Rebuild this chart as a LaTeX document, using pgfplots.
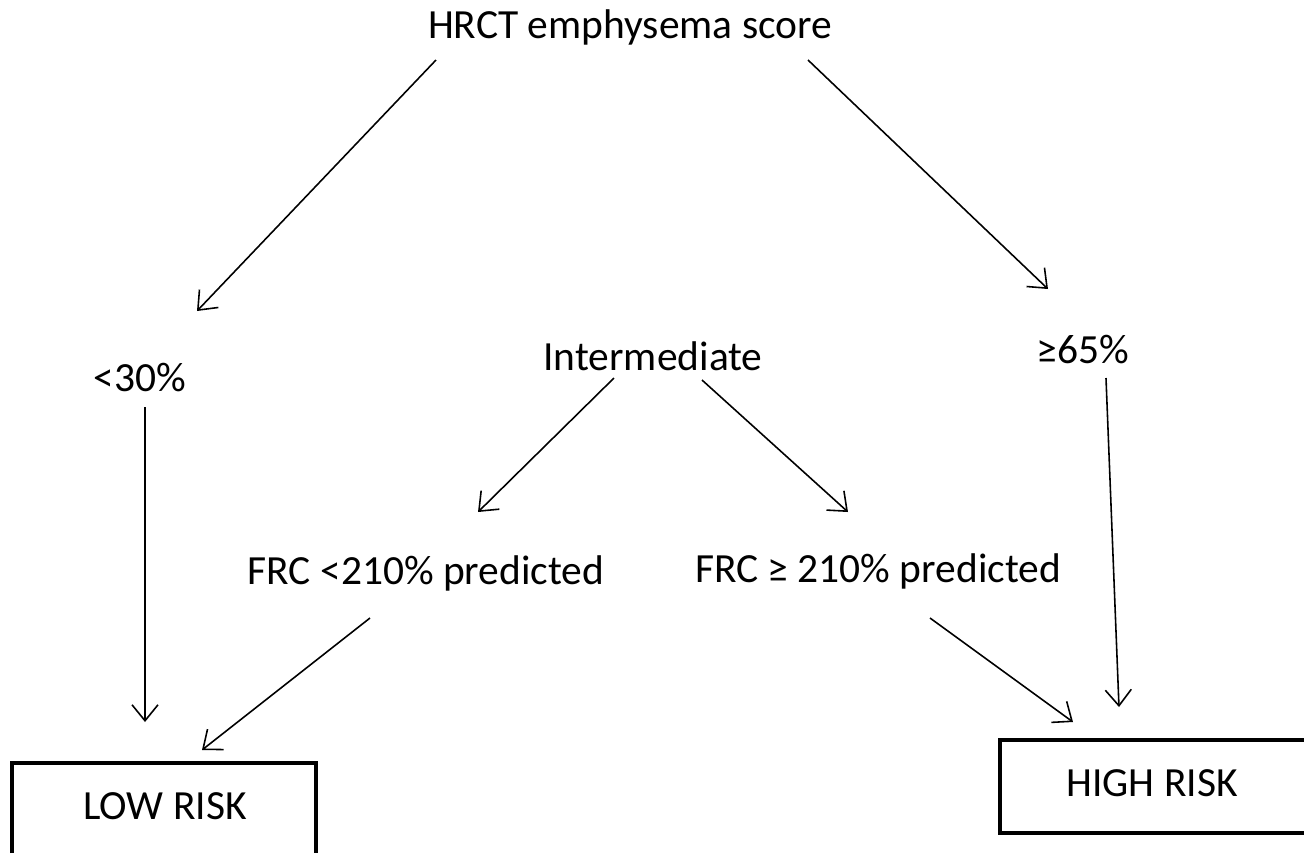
\documentclass[border=0pt]{standalone}
\usepackage{pgfplots}
\pgfplotsset{compat=1.18}
\usepackage{fontspec}
\setmainfont{Carlito}
\usetikzlibrary{arrows.meta}
\begin{document}
\begin{tikzpicture}
\begin{axis}[
  width=13.04cm, height=8.53cm, scale only axis,
  xmin=0, xmax=1304, ymin=0, ymax=853, y dir=reverse,
  axis lines=none, clip=true,
  every axis plot/.append style={black, line width=0.45pt, mark=none},
]
% arrows
\addplot[-{Straight Barb[length=1.6mm,width=2.6mm]}] coordinates {(436,60) (197,311)};
\addplot[-{Straight Barb[length=1.6mm,width=2.6mm]}] coordinates {(808,60) (1048,289)};
\addplot[-{Straight Barb[length=1.6mm,width=2.6mm]}] coordinates {(145,407) (145,722)};
\addplot[-{Straight Barb[length=1.6mm,width=2.6mm]}] coordinates {(1106,378) (1119,707)};
\addplot[-{Straight Barb[length=1.6mm,width=2.6mm]}] coordinates {(614,378) (478,512)};
\addplot[-{Straight Barb[length=1.6mm,width=2.6mm]}] coordinates {(702,380) (848,512)};
\addplot[-{Straight Barb[length=1.6mm,width=2.6mm]}] coordinates {(370,618) (202,750)};
\addplot[-{Straight Barb[length=1.6mm,width=2.6mm]}] coordinates {(930,618) (1073,722)};
% boxes
\addplot[line width=1.1pt] coordinates {(12,853) (12,763) (316,763) (316,853)};
\addplot[line width=1.1pt] coordinates {(1304,740) (1000,740) (1000,833) (1304,833)};
% labels
\node[font=\fontsize{11.8}{14}\selectfont] at (axis cs:630,27) {HRCT emphysema score};
\node[font=\fontsize{11.8}{14}\selectfont] at (axis cs:140,378) {<30\%};
\node[font=\fontsize{11.8}{14}\selectfont] at (axis cs:653,356) {Intermediate};
\node[font=\fontsize{11.8}{14}\selectfont] at (axis cs:1083,350) {≥65\%};
\node[font=\fontsize{11.8}{14}\selectfont] at (axis cs:426,573) {FRC <210\% predicted};
\node[font=\fontsize{11.8}{14}\selectfont] at (axis cs:878,571) {FRC ≥ 210\% predicted};
\node[font=\fontsize{11.8}{14}\selectfont] at (axis cs:165,806) {LOW RISK};
\node[font=\fontsize{11.8}{14}\selectfont] at (axis cs:1152,783) {HIGH RISK};
\end{axis}
\pgfresetboundingbox
\path[use as bounding box] (current axis.south west) rectangle (current axis.north east);
\end{tikzpicture}
\end{document}
